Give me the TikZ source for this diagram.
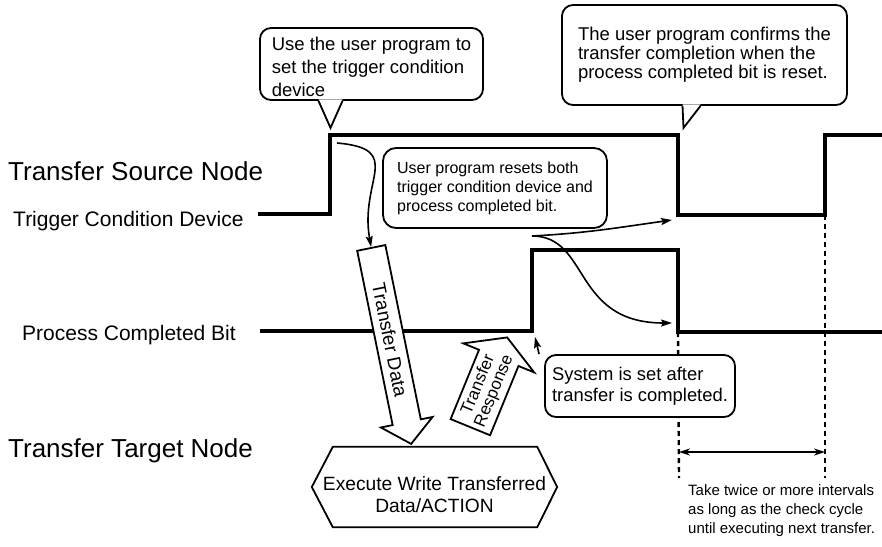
\documentclass[tikz,border=0pt]{standalone}
\usepackage{fontspec}
\setmainfont{Liberation Sans}
\usetikzlibrary{arrows.meta,shapes.arrows,positioning}

% pointer under a callout: node, left base, tip x, tip y, right base
\newcommand{\calltail}[5]{%
  \fill[white] ([shift={(#2,1.5)}]#1.south) -- ([shift={(#3,#4)}]#1.south)
    -- ([shift={(#5,1.5)}]#1.south) -- cycle;
  \draw[note line] ([shift={(#2,0)}]#1.south) -- ([shift={(#3,#4)}]#1.south)
    -- ([shift={(#5,0)}]#1.south);
}

\tikzset{
  wave/.style={line width=4.5pt, line join=miter},
  note/.style={draw, line width=1.8pt, rounded corners=11pt, fill=white,
    align=left, inner sep=0pt},
  note line/.style={line width=1.8pt, line join=miter},
  guide/.style={line width=2.4pt, dash pattern=on 5pt off 4pt},
  flow/.style={line width=1.6pt, -{Stealth[length=11pt,width=7pt,inset=2pt]}},
  span/.style={line width=2pt,
    {Stealth[length=11pt,width=7pt]}-{Stealth[length=11pt,width=7pt]}},
  blockarrow/.style={draw, single arrow, line width=1.8pt, fill=white,
    inner xsep=3pt},
  node label/.style={anchor=base west, inner sep=0pt,
    font=\fontsize{26}{30}\selectfont},
  sig label/.style={anchor=base west, inner sep=0pt,
    font=\fontsize{21}{24}\selectfont},
}

\begin{document}
\begin{tikzpicture}[x=1pt,y=1pt]
  \useasboundingbox (0,0) rectangle (882,-546);

  % row labels
  \node[node label] (srcnode) at (8,-180) {Transfer Source Node};
  \node[sig label] (triglabel) at (13,-226) {Trigger Condition Device};
  \node[sig label] (pcblabel) at (22,-340) {Process Completed Bit};
  \node[node label] (tgtnode) at (8,-457) {Transfer Target Node};

  % signal corners
  \coordinate (trigTop) at (330,-135);
  \coordinate (trigLow) at (678,-215);
  \coordinate (nextRise) at (825,-215);
  \coordinate (pcbRise) at (532,-331);
  \coordinate (pcbLow) at (678,-332);
  \coordinate (resetFrom) at (532,-236);
  \coordinate (gapA) at (679,-452);
  \coordinate (gapB) at (825,-452);

  % waveforms
  \draw[wave] (258,-214) -| (trigTop) -| (trigLow) -| (825,-135) -- (882,-135);
  \draw[wave] (260,-331) -| (532,-250) -| (pcbLow) -- (882,-332);

  % interval guides
  \draw[guide] (pcbLow) -- (679,-478);
  \draw[guide] (nextRise) -- (825,-478);
  \draw[span] (gapA) -- (gapB);

  % callouts
  \node[note, minimum width=223pt, minimum height=72pt,
    font=\fontsize{18.5}{23}\selectfont] (setnote) at (371.5,-64)
    {\rule{0pt}{19pt}Use the user program to\\set the trigger condition\\device};
  \calltail{setnote}{-53}{-41}{-27}{-29}
  \node[note, minimum width=285pt, minimum height=100pt,
    font=\fontsize{18.5}{19}\selectfont] (donenote) at (704.5,-55)
    {The user program confirms the\\transfer completion when the\\process completed bit is reset.};
  \calltail{donenote}{-22}{-21}{-22}{-4}
  \node[note, rounded corners=13pt, minimum width=224pt, minimum height=80pt,
    font=\fontsize{16}{19}\selectfont] (resetnote) at (495,-188)
    {User program resets both\\trigger condition device and\\process completed bit.};
  \node[note, minimum width=190pt, minimum height=62pt,
    font=\fontsize{18.4}{21}\selectfont] (setbitnote) at (640,-386)
    {System is set after\\transfer is completed.};

  % transfer arrows
  \node[blockarrow, rotate=-78.5, minimum height=200pt, inner ysep=6.5pt,
    single arrow head extend=12pt, single arrow tip angle=100,
    font=\fontsize{19}{22}\selectfont] (tdata) at (390,-340) {Transfer Data};
  \node[blockarrow, rotate=67.7, anchor=tail, minimum height=97pt,
    inner xsep=1pt, inner ysep=4pt, single arrow head extend=17pt,
    single arrow tip angle=120, align=center,
    font=\fontsize{17}{17}\selectfont] (tresp) at (470,-428) {Transfer\\Response};

  % target action
  \node[inner sep=0pt, minimum width=245pt, minimum height=80pt, align=center,
    font=\fontsize{19.2}{22}\selectfont] (execute) at (434.5,-487)
    {\rule{0pt}{30pt}Execute Write Transferred\\Data/ACTION};
  \draw[note line] (execute.west) -- ([shift={(21,0)}]execute.north west)
    -- ([shift={(-20,0)}]execute.north east) -- (execute.east)
    -- ([shift={(-20,0)}]execute.south east) -- ([shift={(21,0)}]execute.south west)
    -- cycle;

  % flows
  \draw[flow] ([shift={(7,-8)}]trigTop) to[out=-5,in=100,looseness=1.6] (tdata.tail);
  \draw[flow] (resetFrom) to[out=3,in=188] ([shift={(-6,-5)}]trigLow);
  \draw[flow] (resetFrom) .. controls +(58,0) and +(-100,0) .. ([shift={(-6,9)}]pcbLow);
  \draw[flow] ([shift={(-5,0)}]setbitnote.north west) -- ([shift={(3,-6)}]pcbRise);

  \node[anchor=north west, align=left, inner sep=0pt,
    font=\fontsize{15}{19}\selectfont] (cyclenote) at (688,-484)
    {Take twice or more intervals\\as long as the check cycle\\until executing next transfer.};
\end{tikzpicture}
\end{document}
